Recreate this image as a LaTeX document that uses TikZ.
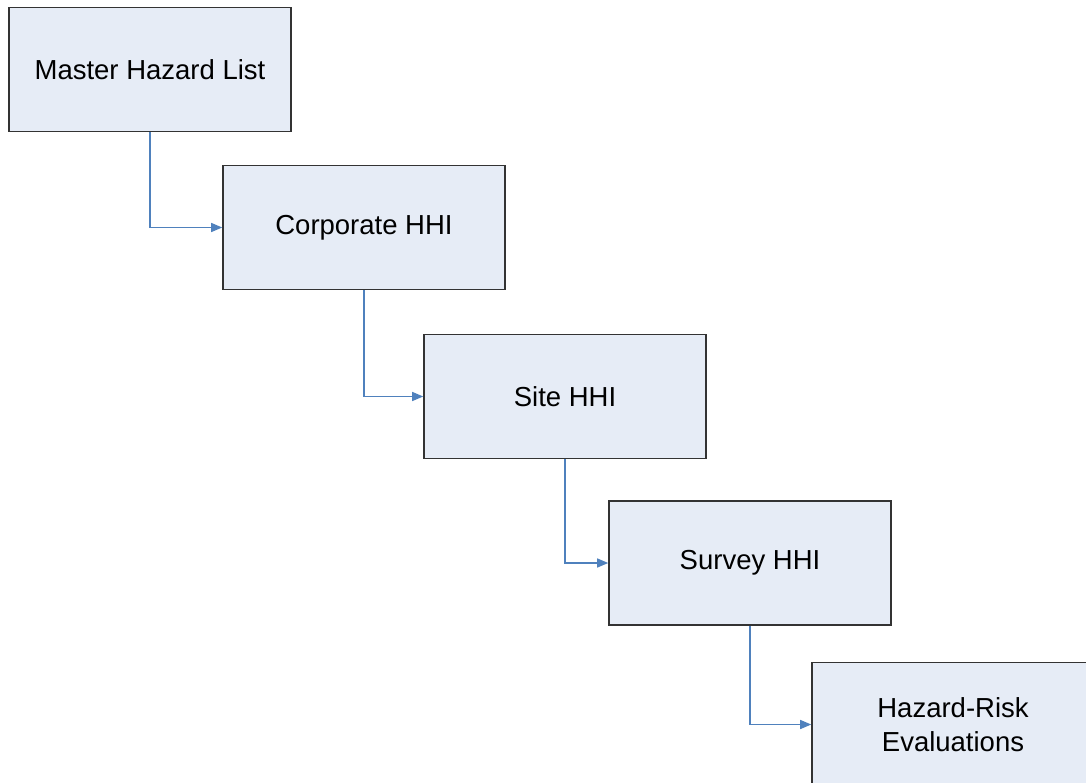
\documentclass[tikz,border=0pt]{standalone}
\usepackage{fontspec}
\setmainfont{Liberation Sans}
\usetikzlibrary{arrows.meta}
\definecolor{boxfill}{HTML}{E6ECF6}
\definecolor{boxline}{HTML}{333333}
\definecolor{linkblue}{HTML}{4F81BD}
\begin{document}
\begin{tikzpicture}[x=1pt,y=-1pt,
  stepbox/.style={draw=boxline,line width=1.6pt,fill=boxfill,minimum width=282pt,minimum height=124pt,
    inner sep=0pt,align=center,font=\fontsize{27.5}{34}\selectfont,text=black},
  link/.style={draw=linkblue,line width=1.3pt,-{Triangle[length=11pt,width=9pt]}}]
\clip (0,0) rectangle (1086,782);
\fill[white] (0,0) rectangle (1086,782);
\node[stepbox] (a) at (150,69.5) {Master Hazard List};
\node[stepbox] (b) at (364,227.5) {Corporate HHI};
\node[stepbox] (c) at (565,396.5) {Site HHI};
\node[stepbox] (d) at (750,563) {Survey HHI};
\node[stepbox] (e) at (953,724.5) {Hazard-Risk\\Evaluations};
\draw[link] (a.south) |- (b.west);
\draw[link] (b.south) |- (c.west);
\draw[link] (c.south) |- (d.west);
\draw[link] (d.south) |- (e.west);
\end{tikzpicture}
\end{document}
